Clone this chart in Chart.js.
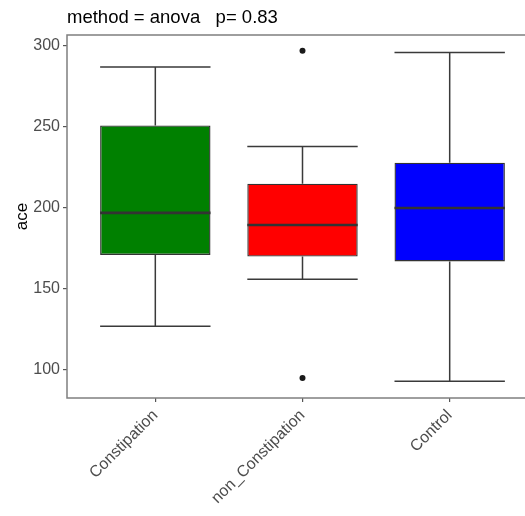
<!DOCTYPE html>
<html>
<head>
<meta charset="utf-8">
<script src="https://cdn.jsdelivr.net/npm/chart.js@4.4.1/dist/chart.umd.min.js"></script>
<style>
  html, body { margin: 0; padding: 0; overflow: hidden; background: #fff; }
</style>
</head>
<body>
<canvas id="chart" width="545" height="516"></canvas>
<script>
// box plot summary
const groups = ['Constipation', 'non_Constipation', 'Control'];
const lowerWhisker = [127, 156, 93];
const q1 = [171, 170, 167];
const median = [197, 189.5, 200];
const q3 = [251, 215, 228];
const upperWhisker = [287, 238, 296];
const outliers = [[], [297, 95], []];
const fills = ['#008000', '#ff0000', '#0000ff'];
const yTicks = [100, 150, 200, 250, 300];

const FONT = "'Liberation Sans', Arial, sans-serif";
const BOX_W = 0.75; // box width in category units

Chart.defaults.font.family = FONT;

// whiskers under the boxes, medians + panel frame + title on top
const boxPlugin = {
  id: 'boxLines',
  beforeDatasetsDraw(chart) {
    const { ctx, scales: { x, y } } = chart;
    ctx.save();
    ctx.strokeStyle = '#3a3a3a';
    ctx.lineWidth = 1.5;
    groups.forEach((g, i) => {
      const cx = x.getPixelForValue(i + 1);
      const left = x.getPixelForValue(i + 1 - BOX_W / 2);
      const right = x.getPixelForValue(i + 1 + BOX_W / 2);
      ctx.beginPath();
      ctx.moveTo(cx, y.getPixelForValue(q3[i]));
      ctx.lineTo(cx, y.getPixelForValue(upperWhisker[i]));
      ctx.moveTo(cx, y.getPixelForValue(q1[i]));
      ctx.lineTo(cx, y.getPixelForValue(lowerWhisker[i]));
      ctx.moveTo(left, y.getPixelForValue(upperWhisker[i]));
      ctx.lineTo(right, y.getPixelForValue(upperWhisker[i]));
      ctx.moveTo(left, y.getPixelForValue(lowerWhisker[i]));
      ctx.lineTo(right, y.getPixelForValue(lowerWhisker[i]));
      ctx.stroke();
    });
    ctx.restore();
  },
  afterDatasetsDraw(chart) {
    const { ctx, scales: { x, y } } = chart;
    ctx.save();
    ctx.strokeStyle = '#333333';
    ctx.lineWidth = 2.6;
    groups.forEach((g, i) => {
      const my = y.getPixelForValue(median[i]);
      ctx.beginPath();
      ctx.moveTo(x.getPixelForValue(i + 1 - BOX_W / 2), my);
      ctx.lineTo(x.getPixelForValue(i + 1 + BOX_W / 2), my);
      ctx.stroke();
    });
    ctx.restore();
  },
  afterDraw(chart) {
    const { ctx, chartArea: a } = chart;
    ctx.save();
    ctx.strokeStyle = '#7f7f7f';
    ctx.lineWidth = 1.5;
    ctx.strokeRect(a.left, a.top, a.right - a.left, a.bottom - a.top);
    ctx.fillStyle = '#000';
    ctx.font = '18.5px ' + FONT;
    ctx.textAlign = 'left';
    ctx.textBaseline = 'alphabetic';
    ctx.fillText('method = anova   p= 0.83', a.left, 23);
    ctx.restore();
  }
};

new Chart(document.getElementById('chart'), {
  type: 'bar',
  data: {
    datasets: [
      {
        type: 'bar',
        data: groups.map((g, i) => ({ x: i + 1, y: [q1[i], q3[i]] })),
        backgroundColor: fills,
        borderColor: '#333333',
        borderWidth: 1.4,
        borderSkipped: false,
        barPercentage: BOX_W,
        categoryPercentage: 1
      },
      {
        type: 'scatter',
        data: outliers.flatMap((vals, i) => vals.map(v => ({ x: i + 1, y: v }))),
        pointRadius: 3,
        pointBackgroundColor: '#1a1a1a',
        pointBorderWidth: 0
      }
    ]
  },
  options: {
    responsive: false,
    animation: false,
    layout: { padding: { top: 35, right: 7, bottom: 0, left: 0 } },
    plugins: {
      legend: { display: false },
      tooltip: { enabled: false }
    },
    scales: {
      x: {
        type: 'linear',
        min: 0.4,
        max: 3.6,
        offset: false,
        afterBuildTicks: s => { s.ticks = groups.map((g, i) => ({ value: i + 1 })); },
        afterFit: s => { s.height = 118; },
        ticks: {
          callback: v => groups[Math.round(v) - 1],
          minRotation: 45,
          maxRotation: 45,
          color: '#4d4d4d',
          font: { size: 16 },
          padding: 4
        },
        grid: { offset: false, drawOnChartArea: false, tickLength: 4, color: '#555555', lineWidth: 1.2 },
        border: { display: false }
      },
      y: {
        min: 82.7,
        max: 306.8,
        afterBuildTicks: s => { s.ticks = yTicks.map(v => ({ value: v })); },
        afterFit: s => { s.width = 67; },
        ticks: { color: '#4d4d4d', font: { size: 16 }, padding: 3 },
        grid: { drawOnChartArea: false, tickLength: 4, color: '#555555', lineWidth: 1.2 },
        border: { display: false },
        title: {
          display: true,
          text: 'ace',
          color: '#000',
          font: { size: 17 },
          padding: { top: 12, bottom: 0 }
        }
      }
    }
  },
  plugins: [boxPlugin]
});
</script>
</body>
</html>
